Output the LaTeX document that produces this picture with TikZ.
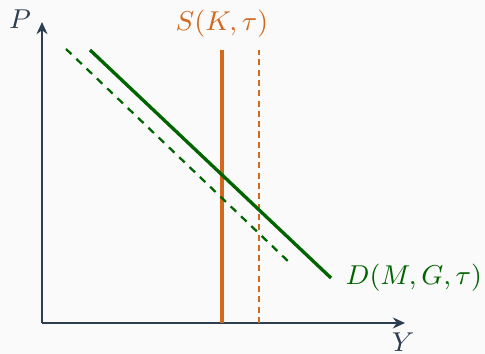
\documentclass[tikz,border=0pt]{standalone}
\usepackage{amsmath,amssymb}
\usepackage{xcolor}
\usepackage{tikz}
\usetikzlibrary{arrows.meta}

\definecolor{axiscol}{HTML}{2C3E50}
\definecolor{supcol}{HTML}{D2691E}
\definecolor{demcol}{HTML}{006400}
\definecolor{bgcol}{HTML}{FAFAFA}

\begin{document}
\begin{tikzpicture}[x=0.33pt,y=-0.33pt,>={Stealth[length=4pt,width=3.6pt]},
                    every node/.style={font=\small, inner sep=1pt},
                    axis/.style={draw=axiscol, line width=0.8pt},
                    supply/.style={draw=supcol, line width=1pt},
                    demand/.style={draw=demcol, line width=1.1pt}]
\fill[bgcol] (0,0) rectangle (485,354);
\useasboundingbox (0,0) rectangle (485,354);
% axes
\coordinate (orig) at (42,323);
\coordinate (ptop) at (42,22);
\coordinate (yend) at (405,323);
\node[text=axiscol] (plab) at (20,19) {$P$};
\node[text=axiscol] (ylab) at (403,342) {$Y$};
\draw[axis,->] (orig) -- (ptop);
\draw[axis,->] (orig) -- (yend);
% supply
\coordinate (s0top) at (222,50);
\coordinate (s0bot) at (222,323);
\coordinate (s1top) at (259,50);
\coordinate (s1bot) at (259,323);
\node[text=supcol] (slab) at (222,24) {$S(K,\tau)$};
\draw[supply] (s0bot) -- (s0top);
\draw[supply,line width=0.9pt,dash pattern=on 2pt off 1.4pt] (s1bot) -- (s1top);
% demand
\coordinate (d0a) at (90,50);
\coordinate (d0b) at (331,278);
\coordinate (d1a) at (66,49);
\coordinate (d1b) at (292,265);
\node[text=demcol, anchor=west] (dlab) at (342,278) {$D(M,G,\tau)$};
\draw[demand] (d0a) -- (d0b);
\draw[demand,line width=0.75pt,dash pattern=on 2.5pt off 2.2pt] (d1a) -- (d1b);
\end{tikzpicture}
\end{document}
